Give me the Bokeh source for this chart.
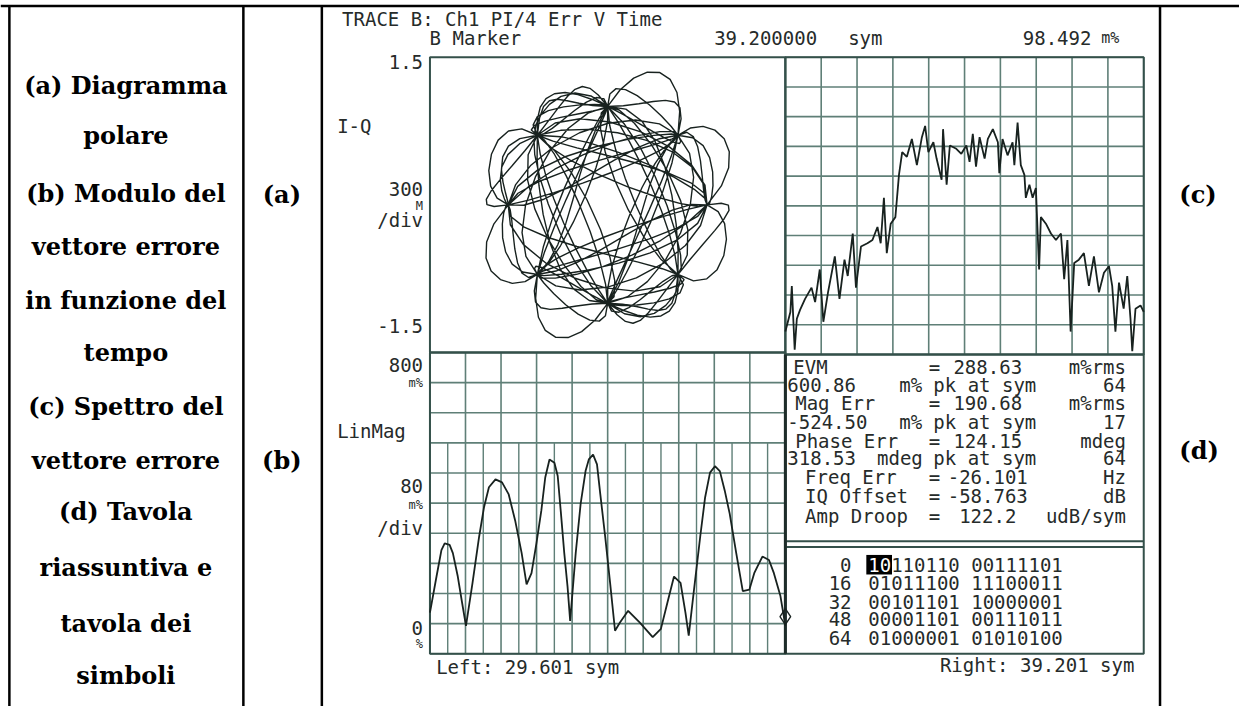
import numpy as np
from bokeh.plotting import figure
from bokeh.models import Range1d
from bokeh.core.properties import value
from bokeh.embed import file_html
from bokeh.resources import INLINE

# ---------------- data ----------------
caption_lines = ["(a) Diagramma", "polare", "(b) Modulo del", "vettore errore",
                 "in funzione del", "tempo", "(c) Spettro del", "vettore errore",
                 "(d) Tavola", "riassuntiva e", "tavola dei", "simboli"]
panel_tags = ["(a)", "(b)", "(c)", "(d)"]

header_title = "TRACE B: Ch1 PI/4 Err V Time"
marker_label = "B Marker"
marker_sym = 39.2
marker_val = 98.492

# symbol table (bits shown by the analyser)
sym_row_index = [0, 16, 32, 48, 64]
sym_row_bits = ["10110110 00111101", "01011100 11100011", "00101101 10000001",
                "00001101 00111011", "01000001 01010100"]

# error vector magnitude vs time (sym, m%)
evm_sym = [29.601, 29.778, 29.911, 29.999, 30.132, 30.220, 30.353, 30.468, 30.574, 30.751,
           30.928, 31.061, 31.194, 31.371, 31.548, 31.725, 31.902, 32.078, 32.211, 32.344,
           32.477, 32.609, 32.715, 32.830, 32.963, 33.052, 33.140, 33.229, 33.317, 33.388,
           33.538, 33.671, 33.804, 33.892, 34.007, 34.113, 34.202, 34.335, 34.467, 34.600,
           34.733, 34.954, 35.264, 35.618, 35.839, 36.016, 36.193, 36.370, 36.502, 36.591,
           36.724, 36.900, 37.033, 37.166, 37.299, 37.431, 37.564, 37.697, 37.874, 38.051,
           38.228, 38.360, 38.449, 38.581, 38.758, 38.891, 39.068, 39.201]
evm_mpct = [109, 205, 275, 293, 289, 267, 205, 136, 74, 188,
            310, 389, 442, 463, 455, 424, 354, 267, 184, 214,
            293, 380, 468, 516, 507, 472, 372, 267, 179, 87,
            267, 398, 485, 516, 529, 503, 424, 310, 188, 61,
            83, 114, 83, 44, 66, 136, 205, 188, 109, 48,
            162, 310, 415, 481, 498, 485, 433, 372, 267, 166,
            170, 214, 232, 258, 249, 214, 153, 74]
evm_left, evm_right = 29.601, 39.201

# error vector spectrum (grid divisions)
spec_div_x = [0.0, 0.14, 0.18, 0.26, 0.32, 0.41, 0.55, 0.73, 0.83, 0.96,
              1.06, 1.19, 1.38, 1.51, 1.65, 1.74, 1.88, 1.97, 2.11, 2.29,
              2.43, 2.57, 2.66, 2.75, 2.83, 2.94, 3.07, 3.17, 3.26, 3.39,
              3.53, 3.67, 3.81, 3.90, 3.99, 4.13, 4.22, 4.36, 4.40, 4.50,
              4.59, 4.77, 4.91, 5.05, 5.14, 5.23, 5.32, 5.42, 5.56, 5.65,
              5.79, 5.93, 5.97, 6.06, 6.20, 6.34, 6.39, 6.48, 6.57, 6.67,
              6.71, 6.81, 6.90, 6.99, 7.08, 7.13, 7.27, 7.41, 7.55, 7.69,
              7.78, 7.87, 7.96, 8.06, 8.19, 8.33, 8.47, 8.61, 8.75, 8.89,
              9.03, 9.12, 9.21, 9.31, 9.44, 9.54, 9.63, 9.68, 9.77, 9.91, 10.0]
spec_div_y = [0.77, 1.43, 2.30, 0.16, 1.20, 1.50, 1.87, 2.25, 1.76, 2.86,
              1.10, 2.09, 3.30, 1.87, 3.19, 2.64, 4.07, 2.25, 3.63, 3.74,
              3.85, 4.29, 3.74, 5.27, 3.41, 4.40, 4.62, 6.04, 6.81, 6.65,
              7.25, 6.37, 7.31, 7.69, 6.81, 7.14, 6.59, 5.88, 7.58, 5.71,
              7.03, 6.92, 6.75, 7.03, 6.48, 7.42, 6.32, 7.31, 6.59, 7.25,
              7.58, 7.14, 6.10, 7.25, 6.70, 7.14, 6.37, 7.80, 6.37, 6.04,
              5.27, 5.71, 5.27, 5.60, 2.86, 4.62, 4.40, 4.07, 3.85, 4.07,
              2.53, 3.85, 0.77, 3.08, 3.19, 3.41, 2.31, 3.30, 2.09, 2.75,
              2.97, 2.31, 0.77, 2.42, 1.54, 2.64, 1.21, 0.11, 1.54, 1.65, 1.43]

# summary table rows
summary_rows = [
    ["EVM", "=", "288.63", "m%rms"],
    ["600.86", "m%", "pk at sym", "64"],
    ["Mag Err", "=", "190.68", "m%rms"],
    ["-524.50", "m%", "pk at sym", "17"],
    ["Phase Err", "=", "124.15", "mdeg"],
    ["318.53", "mdeg", "pk at sym", "64"],
    ["Freq Err", "=", "-26.101", "Hz"],
    ["IQ Offset", "=", "-58.763", "dB"],
    ["Amp Droop", "=", "122.2", "udB/sym"],
]

# ---------------- layout ----------------
W, H = 1239, 706
X0, X1, Y0, Y1 = 0, 1255, 0, 722   # reference picture coordinates
p = figure(width=W, height=H, x_range=Range1d(X0, X1), y_range=Range1d(Y1, Y0),
           x_axis_type=None, y_axis_type=None, output_backend="svg",
           toolbar_location=None, min_border=0, outline_line_color=None)
p.background_fill_color = "white"
p.border_fill_color = "white"


def add_panel(name, px0, px1, py0, py1, dx0, dx1, dy0, dy1):
    sx = (dx1 - dx0) / (px1 - px0)
    sy = (dy1 - dy0) / (py1 - py0)
    p.extra_x_ranges[name + "x"] = Range1d(dx0 - (px0 - X0) * sx, dx1 + (X1 - px1) * sx)
    p.extra_y_ranges[name + "y"] = Range1d(dy0 - (Y1 - py1) * sy, dy1 + (py0 - Y0) * sy)
    return dict(x_range_name=name + "x", y_range_name=name + "y")


GRID = "#5f7f77"
BOX = "#34504a"
TRACE = "#18221f"
INK = "#262b2a"
MONO = value("DejaVu Sans Mono")
SERIF = value("DejaVu Serif")

pol = add_panel("pol", 435, 795, 58, 360, -1.7876, 1.7876, -1.5, 1.5)
spec = add_panel("spec", 795, 1158, 58, 362, 0, 10, 0, 10)
lin = add_panel("lin", 435, 795, 360, 668, evm_left, evm_right, 0, 800)

# spectrum grid
g = np.arange(11)
p.segment(x0=g, y0=0, x1=g, y1=10, line_color=GRID, line_width=1.6, **spec)
p.segment(x0=0, y0=g, x1=10, y1=g, line_color=GRID, line_width=1.6, **spec)

# LinMag grid
vdiv = (evm_right - evm_left) / 10
vx = evm_left + vdiv * np.arange(11)
p.segment(x0=vx, y0=0, x1=vx, y1=800, line_color=GRID, line_width=1.6, **lin)
vh = evm_left + vdiv * (np.arange(10) + 0.5)
p.segment(x0=vh, y0=0, x1=vh, y1=560, line_color=GRID, line_width=1.4, **lin)
hy = 80 * np.arange(11)
p.segment(x0=evm_left, y0=hy, x1=evm_right, y1=hy, line_color=GRID, line_width=1.6, **lin)

# panel borders
p.quad(left=-1.7876, right=1.7876, bottom=-1.5, top=1.5, fill_color=None,
       line_color=BOX, line_width=2, **pol)
p.quad(left=0, right=10, bottom=0, top=10, fill_color=None, line_color=BOX, line_width=2, **spec)
p.quad(left=evm_left, right=evm_right, bottom=0, top=800, fill_color=None,
       line_color=BOX, line_width=2, **lin)
p.quad(left=795, right=1158, top=362, bottom=668, fill_color=None, line_color=BOX, line_width=2)
p.segment(x0=795, y0=[553, 559], x1=1158, y1=[553, 559], line_color=BOX, line_width=2)
p.segment(x0=795, y0=362, x1=795, y1=668, line_color="#1e2c29", line_width=3)

# ---- I-Q polar trace from the symbol bits (pi/4 DQPSK, raised-cosine shaped) ----
bits = "".join(r.replace(" ", "") for r in sym_row_bits) * 2
dibits = [bits[i:i + 2] for i in range(0, len(bits), 2)]
step = {"00": 1, "01": 3, "11": -3, "10": -1}
phase = np.cumsum([step[d] * np.pi / 4 for d in dibits])
sym = np.exp(1j * phase)
K, OS, beta = len(sym), 8, 0.35
t = np.arange(0, (K - 1) * OS + 1) / OS
tau = t[:, None] - np.arange(K)[None, :]
den = 1 - (2 * beta * tau) ** 2
den = np.where(np.abs(den) < 1e-9, 1e-9, den)
pulse = np.sinc(tau) * np.cos(np.pi * beta * tau) / den
wave = pulse @ sym
keep = (t >= 2) & (t <= K - 3)
p.line(x=wave.real[keep], y=wave.imag[keep], line_color=TRACE, line_width=1.4, **pol)

# spectrum trace
p.line(x=spec_div_x, y=spec_div_y, line_color=TRACE, line_width=1.8, **spec)

# EVM trace + marker
p.line(x=evm_sym, y=evm_mpct, line_color=TRACE, line_width=1.8, **lin)
p.scatter(x=[marker_sym], y=[marker_val], marker="diamond", size=16, fill_color=None,
          line_color=TRACE, line_width=1.4, **lin)

# ---------------- table borders ----------------
p.segment(x0=X0, y0=5.5, x1=X1, y1=5.5, line_color="black", line_width=2.5)
p.segment(x0=[9, 246, 325.5, 1174.5], y0=Y0 + 4.5, x1=[9, 246, 325.5, 1174.5], y1=Y1,
          line_color="black", line_width=2.5)

cap_y = [87, 138, 197, 252, 307, 360, 415, 470, 523, 580, 637, 690]
p.text(x=[127] * len(caption_lines), y=cap_y, text=caption_lines, text_font=SERIF,
       text_font_style="bold", text_font_size="24px", text_align="center",
       text_baseline="middle", text_color="black")
p.text(x=[285, 285, 1213, 1214], y=[198, 470, 198, 460], text=panel_tags, text_font=SERIF,
       text_font_style="bold", text_font_size="24px", text_align="center",
       text_baseline="middle", text_color="black")


def mono(xs, ys, txt, align="center", size="19px", color=INK):
    p.text(x=xs, y=ys, text=txt, text_font=MONO, text_font_size=size, text_align=align,
           text_baseline="middle", text_color=color)


mono([346], [19], [header_title], align="left")
mono([481, 775, 876], [38] * 3, [marker_label, f"{marker_sym:.6f}", "sym"])
mono([1105], [38], [f"{marker_val:.3f}"], align="right")
mono([1115], [38], ["m%"], align="left", size="15px")
mono([428] * 7, [63, 193, 224, 333, 373, 497, 539],
     ["1.5", "300", "/div", "-1.5", "800", "80", "/div"], align="right")
mono([428] * 4, [210, 391, 516, 658], ["M", "m%", "m%", "%"], align="right", size="12px")
mono([428], [642], ["0"], align="right")
mono([341, 341], [128, 440], ["I-Q", "LinMag"], align="left")
mono([534, 1050], [682, 680], [f"Left: {evm_left:.3f} sym", f"Right: {evm_right:.3f} sym"])

row_y = [375, 393, 412, 431, 450, 468, 487, 507, 527]
left_x = [803, 797, 805, 797, 805, 797, 815, 815, 815]
for r, yy, lx in zip(summary_rows, row_y, left_x):
    mono([lx], [yy], [r[0]], align="left")
    mono([1140], [yy], [r[3]], align="right")
    if r[1] == "=":
        mono([946, 1000], [yy, yy], [r[1], r[2]])
    else:
        mono([922 if r[1] == "m%" else 911, 997], [yy, yy], [r[1], r[2]])

srow_y = [577, 596, 615, 633, 652]
mono([862] * 5, srow_y, [str(i) for i in sym_row_index], align="right")
mono([879] * 5, srow_y, sym_row_bits, align="left")
p.quad(left=877, right=903, top=567, bottom=587, fill_color="black", line_color=None)
mono([879], [srow_y[0]], [sym_row_bits[0][:2]], align="left", color="white")

open("out.html", "w").write(file_html(p, INLINE))
